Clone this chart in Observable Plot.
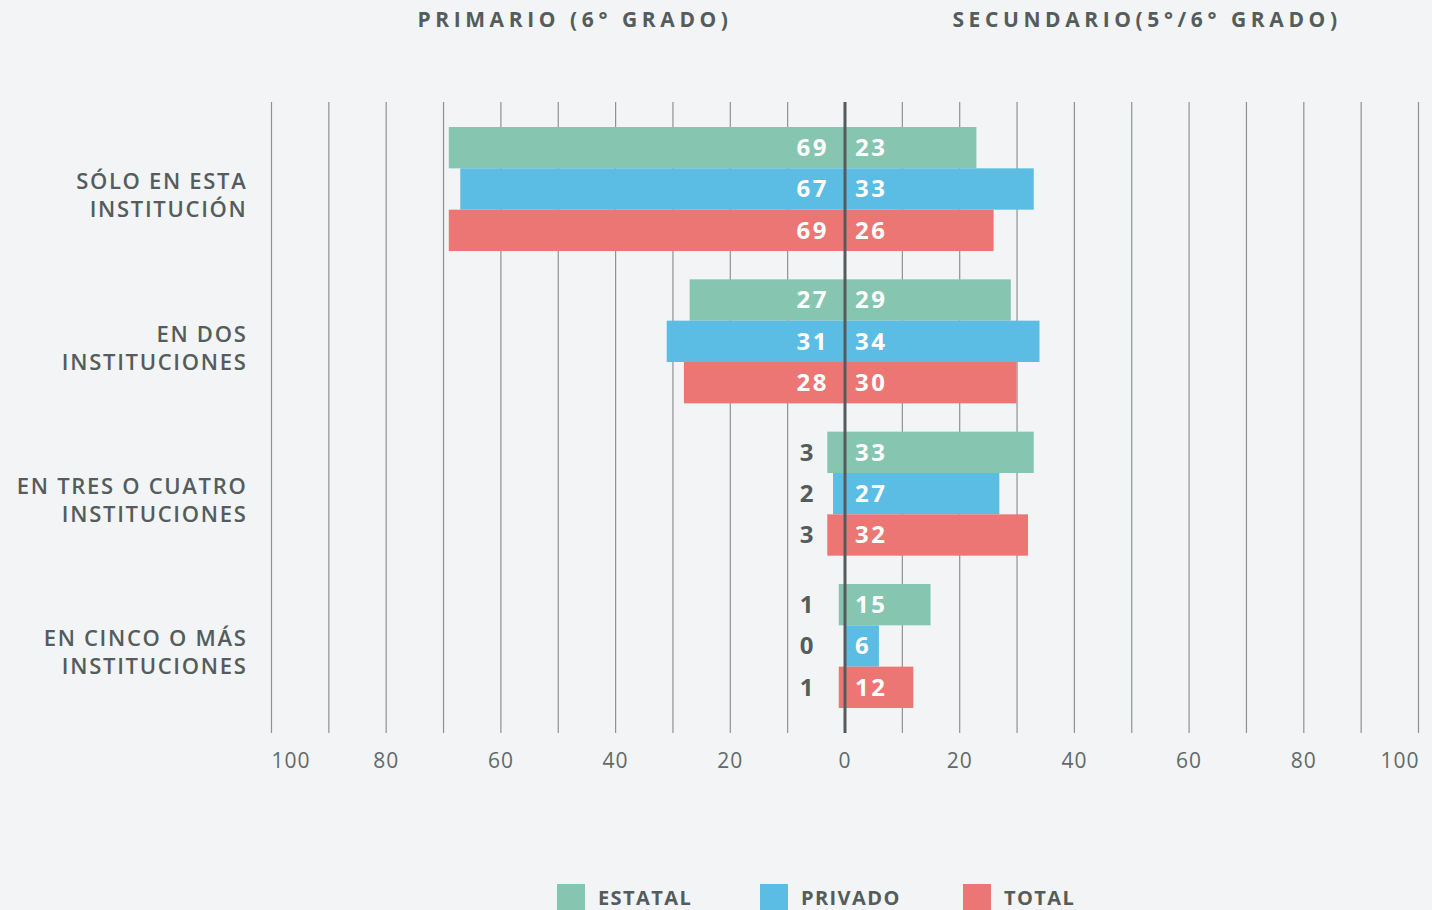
<!DOCTYPE html>
<html>
<head>
<meta charset="utf-8">
<script src="https://cdn.jsdelivr.net/npm/d3@7"></script>
<script src="https://cdn.jsdelivr.net/npm/@observablehq/plot@0.6"></script>
<style>
  html, body { margin: 0; padding: 0; background: #f2f4f6; }
  #wrap { position: relative; width: 1432px; height: 910px; overflow: hidden; font-family: "Open Sans", sans-serif; color: #545c5c; }
  .title { position: absolute; top: 5px; font-size: 21px; font-weight: 700; letter-spacing: 4.6px; white-space: nowrap; transform: translateX(-50%); line-height: 28px; }
  #chart { position: absolute; left: 0; top: 0; }
  #chart g[aria-description="values"] text { letter-spacing: 2.5px; }
  #chart g[aria-description="groups"] text { letter-spacing: 1.7px; }
  #chart g[aria-description="ticks"] text { letter-spacing: 1px; }
  #legend { position: absolute; top: 884px; left: 557px; display: flex; }
  .item { width: 203px; display: flex; align-items: center; }
  .sw { width: 28px; height: 28px; margin-right: 13px; }
  .lab { font-size: 20px; font-weight: 700; letter-spacing: 1.4px; margin-top: -2px; }
</style>
</head>
<body>
<div id="wrap">
  <div class="title" style="left:575px">PRIMARIO (6° GRADO)</div>
  <div class="title" style="left:1147px">SECUNDARIO(5°/6° GRADO)</div>
  <div id="chart"></div>
  <div id="legend"></div>
</div>
<script>
// ---- data ----
const groups = ["SÓLO EN ESTA\nINSTITUCIÓN", "EN DOS\nINSTITUCIONES", "EN TRES O CUATRO\nINSTITUCIONES", "EN CINCO O MÁS\nINSTITUCIONES"];
const series = ["ESTATAL", "PRIVADO", "TOTAL"];
const colors = ["#86c6b0", "#5bbde3", "#ec7673"];
const primarioEstatal = [69, 27, 3, 1];
const primarioPrivado = [67, 31, 2, 0];
const primarioTotal = [69, 28, 3, 1];
const secundarioEstatal = [23, 29, 33, 15];
const secundarioPrivado = [33, 34, 27, 6];
const secundarioTotal = [26, 30, 32, 12];
const gridTicks = [-100, -90, -80, -70, -60, -50, -40, -30, -20, -10, 10, 20, 30, 40, 50, 60, 70, 80, 90, 100];
const labelTicks = [-80, -60, -40, -20, 0, 20, 40, 60, 80];

// ---- table ----
const GROUP_STEP = 3.685;
const primario = {ESTATAL: primarioEstatal, PRIVADO: primarioPrivado, TOTAL: primarioTotal};
const secundario = {ESTATAL: secundarioEstatal, PRIVADO: secundarioPrivado, TOTAL: secundarioTotal};
const rows = [];
groups.forEach((g, gi) => series.forEach((s, si) => {
  rows.push({group: g, serie: s, row: gi * GROUP_STEP + si, prim: primario[s][gi], sec: secundario[s][gi]});
}));
const groupRows = groups.map((g, gi) => ({group: g, mid: gi * GROUP_STEP + 1.5}));
const DARK = "#545c5c";
const AXIS = "#62696a";
const valueStyle = {fontSize: 24, fontWeight: 700, ariaDescription: "values"};
const tickStyle = {frameAnchor: "bottom", lineAnchor: "middle", dy: 28, fill: AXIS, fontSize: 21, ariaDescription: "ticks"};

const chart = Plot.plot({
  width: 1432,
  height: 800,
  marginTop: 102,
  marginBottom: 67,
  marginLeft: 271,
  marginRight: 14,
  style: {background: "transparent", fontFamily: "Open Sans, sans-serif"},
  x: {domain: [-100, 100], axis: null},
  y: {domain: [-0.605, 3 * GROUP_STEP + 3 + 0.605], reverse: true, axis: null},
  color: {domain: series, range: colors},
  marks: [
    Plot.ruleX(gridTicks, {stroke: "#8e9293", strokeWidth: 1.2}),
    Plot.rect(rows, {x1: d => -d.prim, x2: 0, y1: "row", y2: d => d.row + 1, fill: "serie"}),
    Plot.rect(rows, {x1: 0, x2: "sec", y1: "row", y2: d => d.row + 1, fill: "serie"}),
    Plot.ruleX([0], {stroke: "#555b5c", strokeWidth: 3}),
    // value labels
    Plot.text(rows.filter(d => d.prim >= 5), {x: 0, y: d => d.row + 0.5, text: "prim", textAnchor: "end", dx: -16, fill: "white", ...valueStyle}),
    Plot.text(rows.filter(d => d.prim < 5), {x: 0, y: d => d.row + 0.5, text: "prim", textAnchor: "end", dx: -29, fill: DARK, ...valueStyle}),
    Plot.text(rows, {x: 0, y: d => d.row + 0.5, text: "sec", textAnchor: "start", dx: 10, fill: "white", ...valueStyle}),
    // group labels
    Plot.text(groupRows, {x: -100, y: "mid", text: "group", textAnchor: "end", dx: -24, dy: 5, lineHeight: 1.27, fill: DARK, fontSize: 22, fontWeight: 600, ariaDescription: "groups"}),
    // axis tick labels
    Plot.text(labelTicks, {x: d => d, text: d => Math.abs(d), ...tickStyle}),
    Plot.text([-100], {x: d => d, text: d => Math.abs(d), textAnchor: "start", ...tickStyle}),
    Plot.text([100], {x: d => d, text: d => Math.abs(d), textAnchor: "end", ...tickStyle, dx: 1})
  ]
});
document.getElementById("chart").appendChild(chart);

const legend = document.getElementById("legend");
series.forEach((s, i) => {
  const item = document.createElement("div");
  item.className = "item";
  item.innerHTML = `<div class="sw" style="background:${colors[i]}"></div><div class="lab">${s}</div>`;
  legend.appendChild(item);
});
</script>
</body>
</html>
